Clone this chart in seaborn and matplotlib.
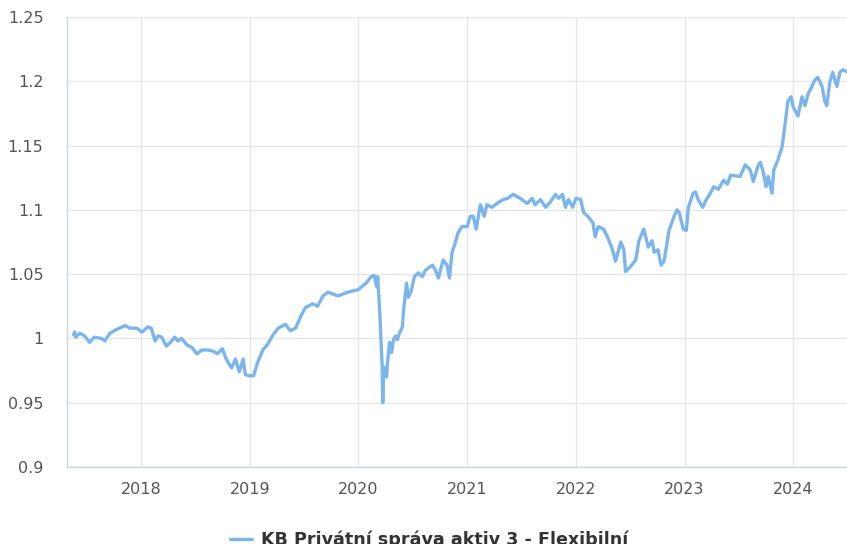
import pandas as pd
import seaborn as sns
import matplotlib.pyplot as plt
from matplotlib.ticker import FuncFormatter, MultipleLocator

# hodnoty (datum, kurz)
datumy = [
    "2017-05-19", "2017-05-23", "2017-05-26", "2017-06-09", "2017-06-25", "2017-07-12",
    "2017-07-28", "2017-08-21", "2017-09-01", "2017-09-18", "2017-10-11", "2017-11-08",
    "2017-11-24", "2017-12-17",
    "2018-01-04", "2018-01-24", "2018-02-04", "2018-02-17", "2018-02-27", "2018-03-11",
    "2018-03-27", "2018-04-14", "2018-04-24", "2018-05-04", "2018-05-17", "2018-06-04",
    "2018-06-21", "2018-07-07", "2018-07-24", "2018-08-14", "2018-09-01", "2018-09-14",
    "2018-10-01", "2018-10-14", "2018-11-01", "2018-11-14", "2018-11-27", "2018-12-10",
    "2018-12-17", "2018-12-28",
    "2019-01-14", "2019-01-27", "2019-02-14", "2019-03-01", "2019-03-21", "2019-04-07",
    "2019-05-01", "2019-05-17", "2019-06-04", "2019-06-21", "2019-07-07", "2019-08-01",
    "2019-08-17", "2019-09-04", "2019-09-21", "2019-10-24", "2019-11-27",
    "2020-01-01", "2020-01-27", "2020-02-13", "2020-02-23", "2020-03-03", "2020-03-06",
    "2020-03-13", "2020-03-19", "2020-03-21", "2020-03-23", "2020-03-26", "2020-04-05",
    "2020-04-08", "2020-04-15", "2020-04-22", "2020-04-28", "2020-05-05", "2020-05-11",
    "2020-05-18", "2020-05-28", "2020-06-01", "2020-06-11", "2020-06-17", "2020-06-27",
    "2020-07-07", "2020-07-20", "2020-08-03", "2020-08-13", "2020-09-06", "2020-09-16",
    "2020-09-26", "2020-10-12", "2020-10-25", "2020-11-02", "2020-11-11", "2020-11-21",
    "2020-12-01", "2020-12-14",
    "2021-01-01", "2021-01-11", "2021-01-21", "2021-01-31", "2021-02-14", "2021-02-27",
    "2021-03-08", "2021-03-24", "2021-04-11", "2021-05-01", "2021-05-17", "2021-06-04",
    "2021-06-28", "2021-07-21", "2021-08-07", "2021-08-17", "2021-09-04", "2021-09-21",
    "2021-10-07", "2021-10-24", "2021-11-04", "2021-11-17", "2021-11-27", "2021-12-07",
    "2021-12-21",
    "2022-01-01", "2022-01-17", "2022-01-27", "2022-02-10", "2022-02-27", "2022-03-07",
    "2022-03-17", "2022-04-04", "2022-04-17", "2022-05-04", "2022-05-14", "2022-06-01",
    "2022-06-11", "2022-06-17", "2022-07-04", "2022-07-21", "2022-08-01", "2022-08-17",
    "2022-09-01", "2022-09-14", "2022-09-21", "2022-10-04", "2022-10-14", "2022-10-24",
    "2022-11-01", "2022-11-10", "2022-11-27", "2022-12-07", "2022-12-14", "2022-12-28",
    "2023-01-07", "2023-01-14", "2023-01-30", "2023-02-07", "2023-02-16", "2023-03-03",
    "2023-03-13", "2023-03-29", "2023-04-09", "2023-04-25", "2023-05-12", "2023-05-25",
    "2023-06-05", "2023-07-07", "2023-07-24", "2023-08-10", "2023-08-20", "2023-09-06",
    "2023-09-13", "2023-09-23", "2023-10-02", "2023-10-09", "2023-10-22", "2023-10-28",
    "2023-11-11", "2023-11-25", "2023-12-04", "2023-12-14", "2023-12-25",
    "2024-01-01", "2024-01-11", "2024-01-17", "2024-01-31", "2024-02-10", "2024-02-20",
    "2024-03-04", "2024-03-14", "2024-03-24", "2024-04-07", "2024-04-17", "2024-04-23",
    "2024-05-03", "2024-05-13", "2024-05-27", "2024-06-06", "2024-06-16", "2024-07-03",
]
kurz = [
    1.003, 1.005, 1.001, 1.004, 1.002, 0.997,
    1.001, 1.000, 0.998, 1.004, 1.007, 1.010,
    1.008, 1.008,
    1.005, 1.009, 1.008, 0.998, 1.002, 1.001,
    0.994, 0.998, 1.001, 0.998, 1.000, 0.995,
    0.993, 0.988, 0.991, 0.991, 0.990, 0.988,
    0.992, 0.984, 0.977, 0.984, 0.974, 0.984,
    0.972, 0.971,
    0.971, 0.981, 0.991, 0.995, 1.003, 1.008,
    1.011, 1.006, 1.008, 1.017, 1.024, 1.027,
    1.025, 1.033, 1.036, 1.033, 1.036,
    1.038, 1.043, 1.048, 1.049, 1.040, 1.048,
    1.020, 0.989, 0.978, 0.950, 0.978, 0.970,
    0.981, 0.997, 0.989, 0.999, 1.002, 0.999,
    1.004, 1.009, 1.022, 1.043, 1.032, 1.037,
    1.048, 1.051, 1.048, 1.053, 1.057, 1.053,
    1.047, 1.061, 1.057, 1.047, 1.067, 1.074,
    1.082, 1.087,
    1.087, 1.095, 1.095, 1.085, 1.104, 1.095,
    1.104, 1.102, 1.105, 1.108, 1.109, 1.112,
    1.109, 1.105, 1.109, 1.104, 1.108, 1.102,
    1.106, 1.112, 1.109, 1.112, 1.102, 1.108,
    1.102,
    1.109, 1.108, 1.098, 1.095, 1.090, 1.079,
    1.087, 1.085, 1.079, 1.069, 1.060, 1.075,
    1.069, 1.052, 1.056, 1.061, 1.076, 1.085,
    1.071, 1.076, 1.067, 1.069, 1.057, 1.060,
    1.071, 1.084, 1.095, 1.100, 1.098, 1.085,
    1.084, 1.102, 1.113, 1.114, 1.108, 1.102,
    1.107, 1.113, 1.118, 1.116, 1.123, 1.120,
    1.127, 1.126, 1.135, 1.131, 1.122, 1.135,
    1.137, 1.129, 1.118, 1.126, 1.113, 1.131,
    1.139, 1.149, 1.165, 1.184, 1.188,
    1.180, 1.176, 1.173, 1.188, 1.181, 1.190,
    1.196, 1.201, 1.203, 1.196, 1.184, 1.181,
    1.199, 1.207, 1.196, 1.207, 1.209, 1.207,
]
nazev_fondu = "KB Privátní správa aktiv 3 - Flexibilní"
roky = ["2018", "2019", "2020", "2021", "2022", "2023", "2024"]

df = pd.DataFrame({"datum": pd.to_datetime(datumy), "kurz": kurz})

sns.set_style("white")
plt.rcParams["font.family"] = ["DejaVu Sans"]

fig = plt.figure(figsize=(8.47, 5.44), dpi=100)
ax = fig.add_axes([67 / 847, 1 - 467 / 544, 1 - 67 / 847, 450 / 544])

sns.lineplot(data=df, x="datum", y="kurz", ax=ax, color="#7cb5ec",
             linewidth=2.4, label=nazev_fondu, legend=False)

ax.set_xlim(pd.Timestamp("2017-04-27"), pd.Timestamp("2024-06-30"))
ax.set_ylim(0.9, 1.25)
ax.yaxis.set_major_locator(MultipleLocator(0.05))
ax.yaxis.set_major_formatter(FuncFormatter(lambda v, p: f"{round(v, 2):g}"))
ax.set_xticks(pd.to_datetime([r + "-01-01" for r in roky]))
ax.set_xticklabels(roky)

ax.grid(True, color="#e6e6e6", linewidth=1)
ax.set_axisbelow(True)
for s in ["top", "right"]:
    ax.spines[s].set_visible(False)
for s in ["left", "bottom"]:
    ax.spines[s].set_color("#ccd6eb")
    ax.spines[s].set_linewidth(1)

ax.tick_params(axis="y", length=0, pad=17, labelsize=11.5, labelcolor="#555555")
ax.tick_params(axis="x", length=7, width=1, color="#ccd6eb", pad=4,
               labelsize=11.5, labelcolor="#555555")
ax.set_xlabel("")
ax.set_ylabel("")

# legenda dole, v originále je useknutá okrajem obrázku
h, l = ax.get_legend_handles_labels()
fig.legend(h, l, loc="center", bbox_to_anchor=(0.507, 1 - 540 / 544),
           frameon=False, handlelength=1.25, handletextpad=0.5,
           prop={"weight": "bold", "size": 12.6}, labelcolor="#333333")

plt.savefig("out.png", dpi=100)
